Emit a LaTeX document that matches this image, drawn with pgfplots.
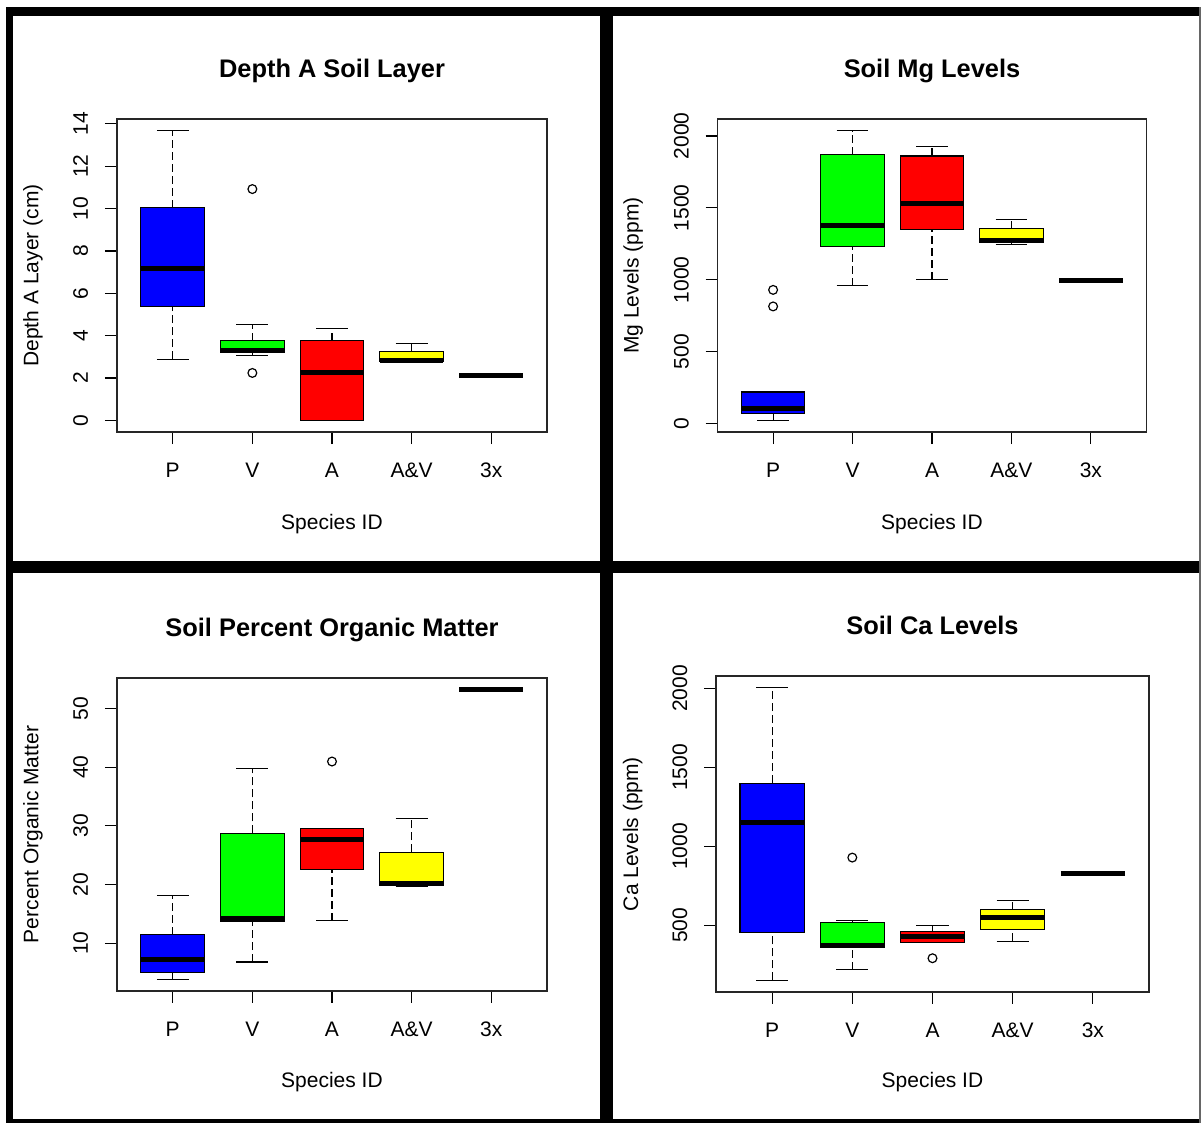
\documentclass[border=0pt]{standalone}
\usepackage{pgfplots}
\pgfplotsset{compat=1.18}
\usepackage{fontspec}
\setmainfont{Liberation Sans}
\definecolor{rblue}{RGB}{0,0,255}
\definecolor{rgreen}{RGB}{0,255,0}
\definecolor{rred}{RGB}{255,0,0}
\definecolor{ryellow}{RGB}{255,255,0}
\pgfplotsset{
  rpanel/.style={
    scale only axis,
    xmin=0.3, xmax=5.7,
    xtick={1,2,3,4,5},
    xticklabels={P,V,A,A\&V,3x},
    tick pos=left,
    tick align=outside,
    major tick length=6pt,
    every tick/.style={black, line width=0.6pt},
    axis line style={black!85, line width=0.7pt},
    scaled y ticks=false,
    unbounded coords=jump,
    /pgf/number format/assume math mode=true,
    /pgf/number format/1000 sep={},
    tick label style={font=\fontsize{10.5pt}{12pt}\selectfont},
    label style={font=\fontsize{10.5pt}{12pt}\selectfont},
    title style={font=\fontsize{12.7pt}{14pt}\selectfont\bfseries, anchor=base, yshift=-6pt},
    xticklabel style={anchor=base, inner sep=0pt},
    yticklabel style={rotate=90, anchor=base, inner sep=0pt},
    xticklabel shift=16.75pt,
    yticklabel shift=8.5pt,
    xlabel={Species ID},
  },
  boxst/.style={draw=black, line width=0.6pt},
  medst/.style={black, line width=2.5pt},
  whisst/.style={black, line width=0.6pt, dash pattern=on 4pt off 2pt},
  capst/.style={black, line width=0.6pt},
  rout/.style={only marks, mark=o, mark size=2.2pt, mark options={black, line width=0.6pt}},
}
\begin{document}
\begin{tikzpicture}
\useasboundingbox (0pt,0pt) rectangle (600.5pt,-561.5pt);
\fill[white] (0pt,0pt) rectangle (600.5pt,-561.5pt);

% Panel 1: P V A A&V 3x
\begin{axis}[rpanel, at={(58.5pt,-59.5pt)}, anchor=north west, width=215pt, height=156.5pt,
  ymin=-0.548, ymax=14.228, ytick={0,2,4,6,8,10,12,14},
  title={Depth A Soil Layer}, title style={at={(axis description cs:0.5,1.134)}},
  ylabel={Depth A Layer (cm)}, ylabel style={at={(axis description cs:-0.1826,0.5)}, anchor=base},
  xlabel style={at={(axis description cs:0.5,-0.3115)}, anchor=base}]
\addplot[whisst] coordinates {(1,10.05) (1,13.68) (1,nan) (1,2.89) (1,5.37) (1,nan)
  (2,3.77) (2,4.51) (2,nan) (2,3.06) (2,3.19) (2,nan)
  (3,3.77) (3,4.32) (3,nan)
  (4,3.27) (4,3.63)};
\addplot[boxst, fill=rblue]   coordinates {(0.6,5.37) (1.4,5.37) (1.4,10.05) (0.6,10.05)} -- cycle;
\addplot[boxst, fill=rgreen]  coordinates {(1.6,3.19) (2.4,3.19) (2.4,3.77) (1.6,3.77)} -- cycle;
\addplot[boxst, fill=rred]    coordinates {(2.6,0) (3.4,0) (3.4,3.77) (2.6,3.77)} -- cycle;
\addplot[boxst, fill=ryellow] coordinates {(3.6,2.79) (4.4,2.79) (4.4,3.27) (3.6,3.27)} -- cycle;
\addplot[capst] coordinates {(0.8,13.68) (1.2,13.68) (1,nan) (0.8,2.89) (1.2,2.89) (1,nan)
  (1.8,4.51) (2.2,4.51) (2,nan) (1.8,3.06) (2.2,3.06) (2,nan)
  (2.8,4.32) (3.2,4.32) (3,nan)
  (3.8,3.63) (4.2,3.63)};
\addplot[medst] coordinates {(0.6,7.15) (1.4,7.15) (1,nan) (1.6,3.31) (2.4,3.31) (2,nan)
  (2.6,2.26) (3.4,2.26) (3,nan) (3.6,2.85) (4.4,2.85) (4,nan) (4.6,2.11) (5.4,2.11)};
\addplot[rout] coordinates {(2,10.92) (2,2.24)};
\end{axis}

% Panel 2
\begin{axis}[rpanel, at={(358.75pt,-59.5pt)}, anchor=north west, width=214.5pt, height=156.5pt,
  ymin=-58, ymax=2118, ytick={0,500,1000,1500,2000},
  title={Soil Mg Levels}, title style={at={(axis description cs:0.5,1.134)}},
  ylabel={Mg Levels (ppm)}, ylabel style={at={(axis description cs:-0.184,0.5)}, anchor=base},
  xlabel style={at={(axis description cs:0.5,-0.3115)}, anchor=base}]
\addplot[whisst] coordinates {(1,23) (1,69) (1,nan)
  (2,1870) (2,2037) (2,nan) (2,958) (2,1231) (2,nan)
  (3,1861) (3,1926) (3,nan) (3,1002) (3,1352) (3,nan)
  (4,1354) (4,1419) (4,nan) (4,1243) (4,1259)};
\addplot[boxst, fill=rblue]   coordinates {(0.6,69) (1.4,69) (1.4,220) (0.6,220)} -- cycle;
\addplot[boxst, fill=rgreen]  coordinates {(1.6,1231) (2.4,1231) (2.4,1870) (1.6,1870)} -- cycle;
\addplot[boxst, fill=rred]    coordinates {(2.6,1352) (3.4,1352) (3.4,1861) (2.6,1861)} -- cycle;
\addplot[boxst, fill=ryellow] coordinates {(3.6,1259) (4.4,1259) (4.4,1354) (3.6,1354)} -- cycle;
\addplot[capst] coordinates {(0.8,23) (1.2,23) (1,nan)
  (1.8,2037) (2.2,2037) (2,nan) (1.8,958) (2.2,958) (2,nan)
  (2.8,1926) (3.2,1926) (3,nan) (2.8,1002) (3.2,1002) (3,nan)
  (3.8,1419) (4.2,1419) (4,nan) (3.8,1243) (4.2,1243)};
\addplot[medst] coordinates {(0.6,102) (1.4,102) (1,nan) (1.6,1380) (2.4,1380) (2,nan)
  (2.6,1528) (3.4,1528) (3,nan) (3.6,1275) (4.4,1275) (4,nan) (4.6,993) (5.4,993)};
\addplot[rout] coordinates {(1,930) (1,815)};
\end{axis}

% Panel 3
\begin{axis}[rpanel, at={(58.5pt,-339pt)}, anchor=north west, width=215pt, height=156.5pt,
  ymin=1.88, ymax=55.17, ytick={10,20,30,40,50},
  title={Soil Percent Organic Matter}, title style={at={(axis description cs:0.5,1.134)}},
  ylabel={Percent Organic Matter}, ylabel style={at={(axis description cs:-0.1826,0.5)}, anchor=base},
  xlabel style={at={(axis description cs:0.5,-0.308)}, anchor=base}]
\addplot[whisst] coordinates {(1,11.48) (1,18.08) (1,nan) (1,3.85) (1,4.99) (1,nan)
  (2,28.7) (2,39.8) (2,nan) (2,6.81) (2,13.81) (2,nan)
  (3,13.87) (3,22.57) (3,nan)
  (4,25.5) (4,31.2) (4,nan) (4,19.67) (4,19.9)};
\addplot[boxst, fill=rblue]   coordinates {(0.6,4.99) (1.4,4.99) (1.4,11.48) (0.6,11.48)} -- cycle;
\addplot[boxst, fill=rgreen]  coordinates {(1.6,13.81) (2.4,13.81) (2.4,28.7) (1.6,28.7)} -- cycle;
\addplot[boxst, fill=rred]    coordinates {(2.6,22.57) (3.4,22.57) (3.4,29.6) (2.6,29.6)} -- cycle;
\addplot[boxst, fill=ryellow] coordinates {(3.6,19.9) (4.4,19.9) (4.4,25.5) (3.6,25.5)} -- cycle;
\addplot[capst] coordinates {(0.8,18.08) (1.2,18.08) (1,nan) (0.8,3.85) (1.2,3.85) (1,nan)
  (1.8,39.8) (2.2,39.8) (2,nan) (1.8,6.81) (2.2,6.81) (2,nan)
  (2.8,13.87) (3.2,13.87) (3,nan)
  (3.8,31.2) (4.2,31.2) (4,nan) (3.8,19.67) (4.2,19.67)};
\addplot[medst] coordinates {(0.6,7.21) (1.4,7.21) (1,nan) (1.6,14.15) (2.4,14.15) (2,nan)
  (2.6,27.7) (3.4,27.7) (3,nan) (3.6,20.2) (4.4,20.2) (4,nan) (4.6,53.2) (5.4,53.2)};
\addplot[rout] coordinates {(3,40.95)};
\end{axis}

% Panel 4
\begin{axis}[rpanel, at={(358pt,-338pt)}, anchor=north west, width=216.5pt, height=158pt,
  ymin=77, ymax=2080, ytick={500,1000,1500,2000},
  title={Soil Ca Levels}, title style={at={(axis description cs:0.5,1.130)}},
  ylabel={Ca Levels (ppm)}, ylabel style={at={(axis description cs:-0.18,0.5)}, anchor=base},
  xlabel style={at={(axis description cs:0.5,-0.302)}, anchor=base}]
\addplot[whisst] coordinates {(1,1401) (1,2006) (1,nan) (1,151) (1,456) (1,nan)
  (2,515) (2,530) (2,nan) (2,219) (2,358) (2,nan)
  (3,458) (3,498) (3,nan)
  (4,599) (4,659) (4,nan) (4,398) (4,472)};
\addplot[boxst, fill=rblue]   coordinates {(0.6,456) (1.4,456) (1.4,1401) (0.6,1401)} -- cycle;
\addplot[boxst, fill=rgreen]  coordinates {(1.6,358) (2.4,358) (2.4,515) (1.6,515)} -- cycle;
\addplot[boxst, fill=rred]    coordinates {(2.6,390) (3.4,390) (3.4,458) (2.6,458)} -- cycle;
\addplot[boxst, fill=ryellow] coordinates {(3.6,472) (4.4,472) (4.4,599) (3.6,599)} -- cycle;
\addplot[capst] coordinates {(0.8,2006) (1.2,2006) (1,nan) (0.8,151) (1.2,151) (1,nan)
  (1.8,530) (2.2,530) (2,nan) (1.8,219) (2.2,219) (2,nan)
  (2.8,498) (3.2,498) (3,nan)
  (3.8,659) (4.2,659) (4,nan) (3.8,398) (4.2,398)};
\addplot[medst] coordinates {(0.6,1154) (1.4,1154) (1,nan) (1.6,371) (2.4,371) (2,nan)
  (2.6,430) (3.4,430) (3,nan) (3.6,547) (4.4,547) (4,nan) (4.6,830) (5.4,830)};
\addplot[rout] coordinates {(2,929) (3,291)};
\end{axis}

% outer frame
\fill[black] (3pt,-3.5pt) rectangle (600.5pt,-8pt);
\fill[black] (3pt,-3.5pt) rectangle (6.5pt,-561.5pt);
\fill[black] (300pt,-3.5pt) rectangle (306.5pt,-561.5pt);
\fill[black] (3pt,-280.5pt) rectangle (600.5pt,-286.5pt);
\fill[black] (3pt,-559.5pt) rectangle (600.5pt,-561.5pt);
\fill[black!60] (599.5pt,-3.5pt) rectangle (600.5pt,-561.5pt);
\end{tikzpicture}
\end{document}
